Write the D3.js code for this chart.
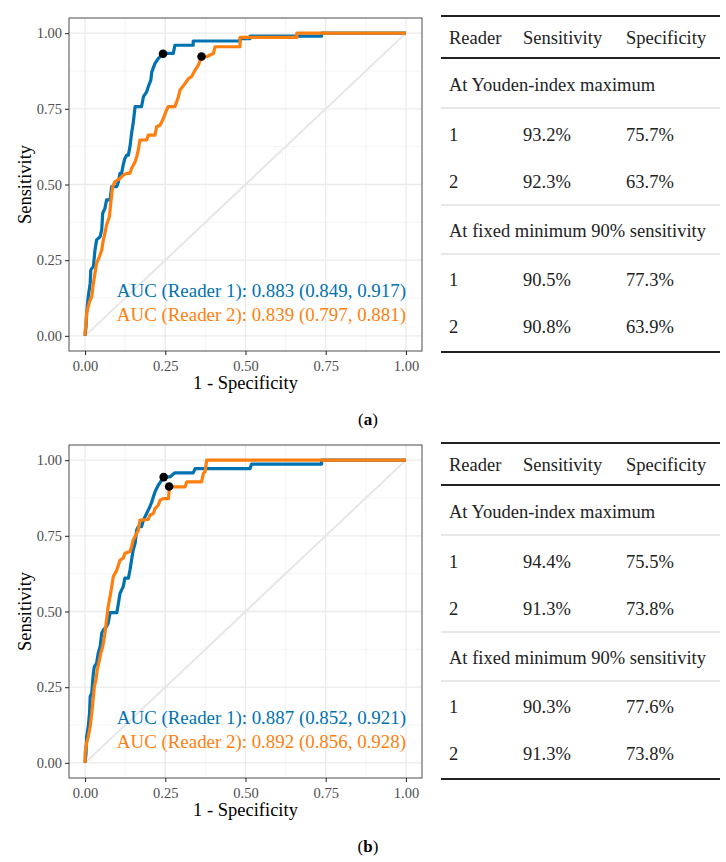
<!DOCTYPE html>
<html><head><meta charset="utf-8">
<script src="https://cdn.jsdelivr.net/npm/d3@7"></script>
<style>body{margin:0;background:#fff} text{font-family:"Liberation Serif","Times New Roman",serif}</style>
</head><body><svg id="c" width="726" height="862"></svg>
<script>
// ---------- DATA ----------
const axisTicks = [0, 0.25, 0.5, 0.75, 1];
const tickLabels = ["0.00", "0.25", "0.50", "0.75", "1.00"];
const minorTicks = [0.125, 0.375, 0.625, 0.875];
const readerNames = ["Reader 1", "Reader 2"];
const readerColors = ["#0072B2", "#FF7F0E"];

// Panel (a): ROC curve vertices [1 - specificity, sensitivity]
const rocA_reader1 = [[0,0],[0.003,0.03],[0.005,0.075],[0.010,0.13],[0.016,0.174],[0.018,0.218],[0.026,0.229],[0.031,0.284],[0.036,0.317],[0.047,0.328],[0.052,0.35],[0.055,0.405],[0.062,0.421],[0.067,0.449],[0.078,0.449],[0.083,0.493],[0.099,0.493],[0.104,0.509],[0.109,0.537],[0.114,0.537],[0.119,0.565],[0.124,0.586],[0.130,0.597],[0.135,0.597],[0.140,0.625],[0.145,0.669],[0.150,0.702],[0.156,0.757],[0.176,0.757],[0.182,0.790],[0.192,0.806],[0.197,0.823],[0.205,0.845],[0.208,0.872],[0.218,0.900],[0.228,0.916],[0.244,0.933],[0.275,0.933],[0.280,0.960],[0.337,0.960],[0.337,0.974],[0.483,0.974],[0.483,0.982],[0.514,0.982],[0.514,0.99],[0.737,0.99],[0.737,1],[1,1]];
const rocA_reader2 = [[0,0],[0,0.011],[0.003,0.042],[0.005,0.075],[0.010,0.097],[0.014,0.113],[0.021,0.13],[0.026,0.174],[0.031,0.207],[0.036,0.24],[0.045,0.262],[0.052,0.284],[0.057,0.317],[0.062,0.339],[0.067,0.366],[0.076,0.394],[0.080,0.438],[0.086,0.493],[0.093,0.509],[0.109,0.52],[0.119,0.531],[0.130,0.537],[0.140,0.537],[0.145,0.553],[0.156,0.575],[0.161,0.592],[0.166,0.614],[0.171,0.647],[0.192,0.647],[0.197,0.663],[0.218,0.663],[0.223,0.691],[0.234,0.696],[0.244,0.718],[0.254,0.746],[0.259,0.757],[0.280,0.757],[0.291,0.79],[0.296,0.812],[0.312,0.834],[0.322,0.85],[0.332,0.856],[0.343,0.878],[0.353,0.894],[0.363,0.922],[0.379,0.922],[0.400,0.933],[0.405,0.955],[0.483,0.955],[0.483,0.986],[0.66,0.986],[0.66,1],[1,1]];
const youdenA = [[0.243, 0.932], [0.363, 0.923]];
const aucA = ["AUC (Reader 1): 0.883 (0.849, 0.917)", "AUC (Reader 2): 0.839 (0.797, 0.881)"];

// Panel (b)
const rocB_reader1 = [[0,0],[0.003,0.032],[0.005,0.087],[0.010,0.12],[0.014,0.164],[0.016,0.219],[0.021,0.23],[0.024,0.274],[0.026,0.296],[0.029,0.318],[0.036,0.329],[0.041,0.362],[0.047,0.384],[0.052,0.428],[0.057,0.439],[0.067,0.45],[0.072,0.461],[0.078,0.496],[0.099,0.496],[0.104,0.527],[0.109,0.56],[0.119,0.582],[0.124,0.61],[0.135,0.61],[0.140,0.637],[0.145,0.67],[0.150,0.703],[0.156,0.725],[0.161,0.769],[0.166,0.78],[0.176,0.78],[0.182,0.802],[0.187,0.813],[0.192,0.824],[0.197,0.835],[0.202,0.846],[0.208,0.862],[0.213,0.879],[0.218,0.895],[0.228,0.917],[0.239,0.934],[0.246,0.945],[0.265,0.945],[0.280,0.958],[0.337,0.958],[0.343,0.972],[0.514,0.972],[0.519,0.987],[0.737,0.987],[0.737,1],[1,1]];
const rocB_reader2 = [[0,0],[0,0.032],[0.005,0.065],[0.010,0.087],[0.016,0.12],[0.021,0.164],[0.026,0.219],[0.029,0.252],[0.034,0.274],[0.038,0.307],[0.045,0.34],[0.049,0.362],[0.055,0.384],[0.062,0.428],[0.067,0.472],[0.072,0.516],[0.078,0.549],[0.083,0.582],[0.088,0.615],[0.099,0.637],[0.109,0.67],[0.119,0.676],[0.124,0.692],[0.140,0.698],[0.145,0.714],[0.150,0.736],[0.161,0.758],[0.166,0.769],[0.171,0.802],[0.197,0.804],[0.202,0.818],[0.213,0.824],[0.218,0.84],[0.228,0.851],[0.234,0.868],[0.244,0.873],[0.260,0.873],[0.263,0.912],[0.312,0.912],[0.317,0.928],[0.363,0.928],[0.369,0.956],[0.374,0.961],[0.379,1],[1,1]];
const youdenB = [[0.245, 0.944], [0.262, 0.913]];
const aucB = ["AUC (Reader 1): 0.887 (0.852, 0.921)", "AUC (Reader 2): 0.892 (0.856, 0.928)"];

// Tables
const tableHeader = ["Reader", "Sensitivity", "Specificity"];
const groupLabels = ["At Youden-index maximum", "At fixed minimum 90% sensitivity"];
const tableA_youden = [["1", "93.2%", "75.7%"], ["2", "92.3%", "63.7%"]];
const tableA_fixed  = [["1", "90.5%", "77.3%"], ["2", "90.8%", "63.9%"]];
const tableB_youden = [["1", "94.4%", "75.5%"], ["2", "91.3%", "73.8%"]];
const tableB_fixed  = [["1", "90.3%", "77.6%"], ["2", "91.3%", "73.8%"]];
const captions = ["a", "b"];

// ---------- DRAW ----------
const svg = d3.select("#c");
svg.append("rect").attr("width", 726).attr("height", 862).attr("fill", "#fff");

function drawPanel(top, curves, youden, aucTexts, caption) {
  const x = d3.scaleLinear().domain([-0.05, 1.05]).range([69, 422]);
  const y = d3.scaleLinear().domain([-0.05, 1.05]).range([top + 333, top]);
  const g = svg.append("g");
  // minor grid
  g.selectAll(".mx").data(minorTicks).join("line")
    .attr("x1", d => x(d)).attr("x2", d => x(d)).attr("y1", y.range()[0]).attr("y2", y.range()[1])
    .attr("stroke", "#f0f0f0").attr("stroke-width", 0.7);
  g.selectAll(".my").data(minorTicks).join("line")
    .attr("y1", d => y(d)).attr("y2", d => y(d)).attr("x1", x.range()[0]).attr("x2", x.range()[1])
    .attr("stroke", "#f0f0f0").attr("stroke-width", 0.7);
  // major grid
  g.selectAll(".Mx").data(axisTicks).join("line")
    .attr("x1", d => x(d)).attr("x2", d => x(d)).attr("y1", y.range()[0]).attr("y2", y.range()[1])
    .attr("stroke", "#ebebeb").attr("stroke-width", 1.3);
  g.selectAll(".My").data(axisTicks).join("line")
    .attr("y1", d => y(d)).attr("y2", d => y(d)).attr("x1", x.range()[0]).attr("x2", x.range()[1])
    .attr("stroke", "#ebebeb").attr("stroke-width", 1.3);
  // diagonal
  g.append("line").attr("x1", x(0)).attr("y1", y(0)).attr("x2", x(1)).attr("y2", y(1))
    .attr("stroke", "#e6e6e6").attr("stroke-width", 2);
  // curves
  const line = d3.line().x(d => x(d[0])).y(d => y(d[1]));
  curves.forEach((c, i) => {
    g.append("path").attr("d", line(c)).attr("fill", "none")
      .attr("stroke", readerColors[i]).attr("stroke-width", 3.2)
      .attr("stroke-linejoin", "round").attr("stroke-linecap", "butt");
  });
  // youden points
  g.selectAll(".yd").data(youden).join("circle")
    .attr("cx", d => x(d[0])).attr("cy", d => y(d[1])).attr("r", 4.3).attr("fill", "#000");
  // AUC labels
  const aucY = [0.13, 0.05];
  aucTexts.forEach((t, i) => {
    g.append("text").attr("x", x(1)).attr("y", y(aucY[i])).attr("text-anchor", "end")
      .attr("font-size", 18.9).attr("fill", readerColors[i]).text(t);
  });
  // border
  g.append("rect").attr("x", 69).attr("y", top).attr("width", 353).attr("height", 333)
    .attr("fill", "none").attr("stroke", "#4d4d4d").attr("stroke-width", 1);
  // axes
  const xa = g.append("g").attr("transform", `translate(0,${top + 333})`)
    .call(d3.axisBottom(x).tickValues(axisTicks).tickFormat((d, i) => tickLabels[i]).tickSize(4).tickPadding(5.5));
  const ya = g.append("g").attr("transform", `translate(69,0)`)
    .call(d3.axisLeft(y).tickValues(axisTicks).tickFormat((d, i) => tickLabels[i]).tickSize(4).tickPadding(3));
  [xa, ya].forEach(a => {
    a.select(".domain").remove();
    a.selectAll(".tick line").attr("stroke", "#333").attr("stroke-width", 1.1);
    a.selectAll(".tick text").attr("fill", "#4d4d4d").attr("font-size", 14.5)
      .attr("font-family", "Liberation Serif");
  });
  // axis titles
  g.append("text").attr("x", x(0.5)).attr("y", top + 371).attr("text-anchor", "middle")
    .attr("font-size", 18.5).attr("fill", "#000").text("1 - Specificity");
  g.append("text").attr("transform", `translate(31,${top + 166.5}) rotate(-90)`)
    .attr("text-anchor", "middle").attr("font-size", 18.5).attr("fill", "#000").text("Sensitivity");
  // caption
  const cap = g.append("text").attr("x", 368).attr("y", caption.y).attr("text-anchor", "middle")
    .attr("font-size", 17).attr("fill", "#000");
  cap.append("tspan").text("(");
  cap.append("tspan").attr("font-weight", "bold").text(caption.t);
  cap.append("tspan").text(")");
}

function drawTable(T, youdenRows, fixedRows) {
  const g = svg.append("g");
  const x1 = 441, x2 = 720;
  const cols = [449, 523, 626];
  const fs = 18.5, off = 6;
  const hline = (yy, w, c) => g.append("line").attr("x1", x1).attr("x2", x2)
    .attr("y1", yy).attr("y2", yy).attr("stroke", c).attr("stroke-width", w);
  const txt = (xx, yy, t) => g.append("text").attr("x", xx).attr("y", yy + off)
    .attr("font-size", fs).attr("fill", "#222").text(t);
  hline(T, 2, "#222");
  tableHeader.forEach((h, i) => txt(cols[i], T + 22, h));
  hline(T + 42, 2, "#222");
  txt(cols[0], T + 69, groupLabels[0]);
  hline(T + 92, 1.3, "#e0e0e0");
  youdenRows.forEach((r, ri) => r.forEach((v, ci) => txt(cols[ci], T + 119 + ri * 47, v)));
  hline(T + 189, 1.3, "#e0e0e0");
  txt(cols[0], T + 215, groupLabels[1]);
  hline(T + 238, 1.3, "#e0e0e0");
  fixedRows.forEach((r, ri) => r.forEach((v, ci) => txt(cols[ci], T + 264 + ri * 47, v)));
  hline(T + 336, 2, "#222");
}

drawPanel(18, [rocA_reader1, rocA_reader2], youdenA, aucA, {t: captions[0], y: 425});
drawPanel(445, [rocB_reader1, rocB_reader2], youdenB, aucB, {t: captions[1], y: 852});
drawTable(16, tableA_youden, tableA_fixed);
drawTable(443, tableB_youden, tableB_fixed);
</script></body></html>
